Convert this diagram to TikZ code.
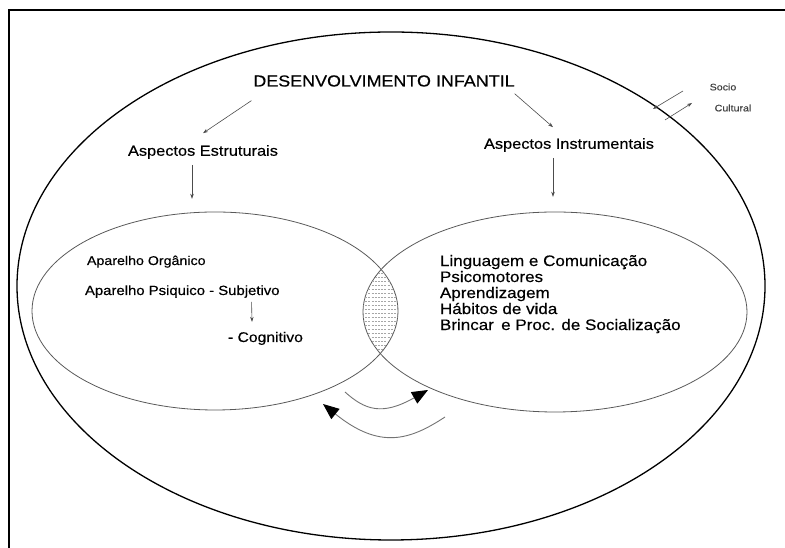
\documentclass[tikz,border=0pt]{standalone}
\usepackage{fontspec}
\setmainfont{Liberation Sans}[FakeStretch=1.12, FakeBold=0.4]
\usetikzlibrary{shapes.geometric, arrows.meta, positioning, calc}

\tikzset{
  lbl/.style={inner sep=0pt, outer sep=0pt},
  thinarr/.style={draw=black!70, line width=0.6pt, -{Stealth[length=5pt,width=3.5pt]}},
  bigarr/.style={draw=black!55, line width=0.9pt, -{Triangle[length=16pt,width=13pt,color=black]}},
  ell/.style={ellipse, draw=black!65, line width=0.8pt, inner sep=0pt, outer sep=0pt}
}

\begin{document}
\begin{tikzpicture}[x=1pt, y=1pt]
\useasboundingbox (0,0) rectangle (785,548);
\draw[line width=2pt] (8.5,0) -- (8.5,537.5) -- (785,537.5);

% the three ellipses
\node[ell, draw=black, line width=1.3pt, minimum width=748pt, minimum height=508pt] (outer) at (391,262) {};
\node[ell, minimum width=366pt, minimum height=198pt] (estrEll) at (215,237) {};
\node[ell, minimum width=384pt, minimum height=200pt] (instrEll) at (555,236) {};

% hatched overlap
\begin{scope}
  \clip (estrEll.center) ellipse [x radius=183, y radius=99];
  \clip (instrEll.center) ellipse [x radius=192, y radius=100];
  \foreach \yy in {195,199,...,283}
    \draw[black!35, line width=0.6pt, dash pattern=on 2pt off 1.2pt] (362,\yy) -- (400,\yy);
\end{scope}

% titles
\node[lbl, font=\fontsize{16}{19}\selectfont] (dev) at (384,467) {DESENVOLVIMENTO INFANTIL};
\node[lbl, font=\fontsize{14.6}{17}\selectfont] (estr) at (203,396) {Aspectos Estruturais};
\node[lbl, font=\fontsize{14.6}{17}\selectfont] (instr) at (569,403) {Aspectos Instrumentais};
\node[lbl, font=\fontsize{9.5}{11}\selectfont, text=black!75] (socio) at (723,461) {Socio};
\node[lbl, font=\fontsize{9.5}{11}\selectfont, text=black!75] (cult) at (733,440) {Cultural};

\draw[thinarr] ([shift={(-2,-14)}]dev.south west) -- ([yshift=12pt]estr.north);
\draw[thinarr] ([shift={(0,-7)}]dev.south east) -- ([shift={(-16,11)}]instr.north);
\draw[thinarr] ([shift={(-11,-6)}]estr.south) -- ++(0,-34);
\draw[thinarr] ([shift={(-16,-6)}]instr.south) -- ++(0,-39);
\draw[thinarr] ($(socio)+(-40,-4)$) -- ($(socio)+(-70,-22)$);
\draw[thinarr] ($(socio)+(-58,-33)$) -- ($(socio)+(-31,-16)$);

% left ellipse
\node[lbl, anchor=base west, font=\fontsize{12.7}{15}\selectfont] (org) at (87,283) {Aparelho Orgânico};
\node[lbl, anchor=base west, font=\fontsize{13.3}{15}\selectfont] (psi) at (85,253) {Aparelho Psiquico - Subjetivo};
\node[lbl, anchor=base west, font=\fontsize{14}{16}\selectfont] (cog) at (228,206) {- Cognitivo};
\draw[thinarr] ([shift={(-28,-7)}]psi.base east) -- ([shift={(-13.5,10)}]cog.north);

% right ellipse
\node[lbl, anchor=north west, align=left, font=\fontsize{15.2}{16}\selectfont] (list) at (440,293)
  {Linguagem e Comunicação\\Psicomotores\\Aprendizagem\\Hábitos de vida\\Brincar\, e Proc. de Socialização};

% exchange between the two sides
\coordinate (upA) at (345,156);
\coordinate (upB) at (428,158);
\coordinate (loA) at (445,131);
\coordinate (loB) at (323,144);
\draw[bigarr] (upA) .. controls (365,138) and (382,132) .. (upB);
\draw[bigarr] (loA) .. controls (410,108) and (380,98) .. (loB);
\end{tikzpicture}
\end{document}
